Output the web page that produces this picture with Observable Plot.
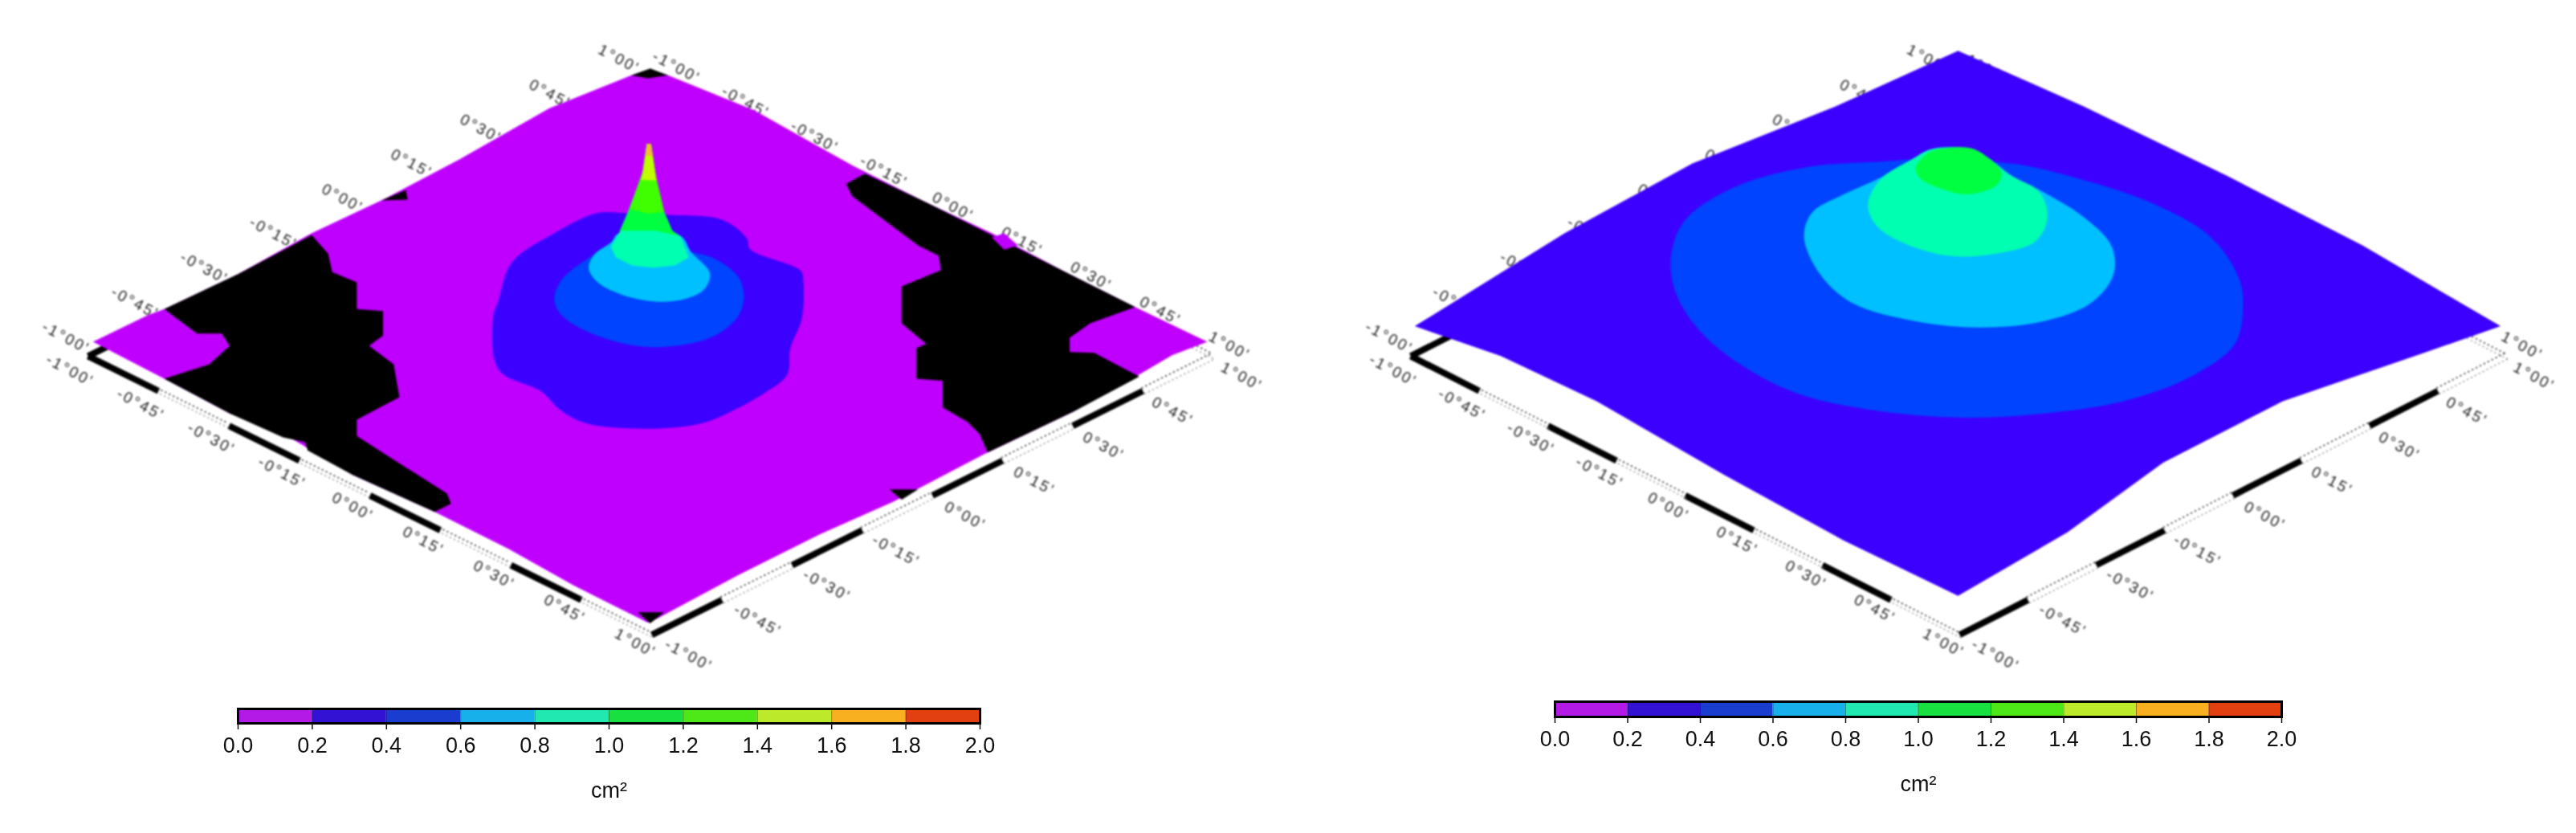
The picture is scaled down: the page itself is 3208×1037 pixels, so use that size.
<!DOCTYPE html>
<html><head><meta charset="utf-8">
<script src="https://cdn.jsdelivr.net/npm/d3@7"></script>
<script src="https://cdn.jsdelivr.net/npm/@observablehq/plot@0.6"></script>
<style>
html,body{margin:0;padding:0;background:#fff}
#page{position:relative;width:3208px;height:1037px;overflow:hidden;background:#fff}
#page>div{position:absolute}
svg{display:block;background:transparent !important}
</style></head><body><div id="page"></div>
<script>
// colour classes (cm²)
const thresholds=[0.2,0.4,0.6,0.8,1.0,1.2,1.4,1.6,1.8];
const surfaceColors=["#c000ff","#3c00ff","#0044ff","#00c0ff","#00ffb0","#00ff40","#40ff00","#c0ff00","#ffb040","#f04010"];
const barColors=["#b31ae6","#3312d4","#1a3ccf","#18b0ea","#20e8b0","#18e040","#4ee818","#bcea2a","#f8b020","#e24010"];
const barTicks=[0,0.2,0.4,0.6,0.8,1.0,1.2,1.4,1.6,1.8,2.0];
// graticule ticks (degrees)
const gridTicks=[-1,-0.75,-0.5,-0.25,0,0.25,0.5,0.75,1];
const gridLabels=["-1°00'","-0°45'","-0°30'","-0°15'","0°00'","0°15'","0°30'","0°45'","1°00'"];
const corners={L:[107,770],B:[795,1450],R:[1480,770],T:[795,90]};
const labelTracks=[
 {from:[85,805],to:[775,1470]},
 {from:[840,1500],to:[1515,820]},
 {from:[80,725],to:[755,45]},
 {from:[825,65],to:[1500,745]}
];
// left panel: surface read in picture units
const leftSurface=[[113,735],[180,670],[200,655],[290,570],[380,470],[470,385],[560,290],[670,165],[770,85],[793,70],[815,85],[920,170],[1040,305],[1130,395],[1210,470],[1300,565],[1385,650],[1473,735],[1430,768],[1390,815],[1310,905],[1200,1010],[1090,1125],[1000,1205],[900,1305],[800,1412],[790,1420],[700,1330],[620,1240],[530,1150],[430,1060],[350,965],[280,910],[200,825]];
const leftNoDataA=[[200,655],[290,570],[380,475],[400,520],[405,565],[435,590],[435,655],[467,660],[467,720],[450,745],[480,790],[487,870],[435,925],[435,965],[470,1010],[545,1105],[550,1130],[530,1150],[430,1060],[375,1000],[372,980],[345,968],[280,910],[200,825],[255,790],[280,745],[270,715],[240,715]];
const leftNoDataB=[[1055,325],[1130,395],[1205,470],[1300,565],[1385,650],[1330,690],[1305,725],[1305,760],[1335,762],[1390,820],[1310,905],[1205,1005],[1195,960],[1180,930],[1150,895],[1150,830],[1118,825],[1118,750],[1130,740],[1100,690],[1100,600],[1148,560],[1145,525],[1120,500],[1040,380],[1032,350]];
const leftNoDataTop=[[770,85],[793,68],[815,85],[790,92]];
const leftNoDataBottom=[[778,1395],[810,1395],[793,1422]];
const leftNoDataSpot1=[[465,390],[495,365],[497,388]];
const leftNoDataSpot2=[[1085,1095],[1120,1095],[1100,1120]];
const leftSliver=[[1210,480],[1225,470],[1242,500],[1225,510]];
const leftC02=[[601,679],[608,633],[624,542],[676,470],[728,421],[764,421],[810,425],[882,438],[911,483],[915,509],[977,562],[980,588],[978,679],[964,751],[960,816],[931,862],[889,908],[856,934],[797,947],[715,934],[683,901],[660,856],[608,803]];
const leftC04=[[676,627],[686,581],[719,529],[742,503],[843,516],[875,536],[902,581],[907,633],[898,679],[866,725],[800,748],[745,731],[699,692],[681,660]];
const leftC06=[[718,555],[725,522],[745,493],[755,470],[830,477],[843,516],[866,568],[859,607],[836,630],[800,637],[758,620],[728,588]];
const leftC08=[[745,503],[755,470],[758,457],[766,418],[777,359],[784,320],[789,252],[794,252],[800,333],[810,418],[820,464],[830,477],[840,529],[823,549],[797,554],[771,549],[751,529]];
const leftC10=[[756,464],[766,418],[777,359],[784,320],[789,252],[794,252],[800,333],[810,418],[820,464],[828,477],[800,464]];
const leftC12=[[768,411],[777,359],[784,320],[789,252],[794,252],[800,333],[810,418],[790,422]];
const leftC14=[[782,340],[784,320],[789,252],[794,252],[800,333],[801,341]];
const leftC16=[[788,281],[790,252],[793,252],[796,281]];
// right panel
const rightSurface=[[112,697],[300,470],[460,300],[640,160],[793,25],[950,160],[1130,330],[1300,500],[1473,697],[1380,760],[1200,880],[1050,1030],[930,1200],[793,1355],[650,1220],[500,1060],[340,880],[220,770]];
const rightC04=[[433,530],[450,440],[510,360],[600,310],[700,295],[740,290],[860,300],[950,340],[1040,400],[1110,480],[1145,580],[1150,650],[1140,740],[1085,820],[1000,880],[900,910],[800,920],[680,900],[590,860],[520,790],[470,710],[440,620]];
const rightC06=[[600,480],[610,420],[650,375],[695,335],[735,290],[760,265],[810,265],[830,285],[860,330],[900,370],[950,430],[985,500],[988,570],[960,640],[900,685],[820,700],[740,685],[660,640],[620,570]];
const rightC08=[[680,400],[695,340],[735,290],[760,265],[810,265],[830,285],[860,330],[895,370],[905,430],[890,490],[840,520],[780,525],[720,490],[690,450]];
const rightC10=[[740,310],[755,275],[775,263],[810,263],[830,285],[848,325],[840,355],[805,375],[770,360],[745,335]];

const SMOOTH="catmull-rom-closed", SHARP="linear-closed";
const leftLayers=[
 {pts:leftSurface,level:0.1,curve:SHARP},
 {pts:leftNoDataA,color:"#000",curve:SHARP},{pts:leftNoDataB,color:"#000",curve:SHARP},
 {pts:leftNoDataTop,color:"#000",curve:SHARP},{pts:leftNoDataBottom,color:"#000",curve:SHARP},
 {pts:leftNoDataSpot1,color:"#000",curve:SHARP},{pts:leftNoDataSpot2,color:"#000",curve:SHARP},
 {pts:leftSliver,level:0.1,curve:SHARP},
 {pts:leftC02,level:0.3,curve:SMOOTH},{pts:leftC04,level:0.5,curve:SMOOTH},{pts:leftC06,level:0.7,curve:SMOOTH},
 {pts:leftC08,level:0.9,curve:SHARP},{pts:leftC10,level:1.1,curve:SHARP},{pts:leftC12,level:1.3,curve:SHARP},
 {pts:leftC14,level:1.5,curve:SHARP},{pts:leftC16,level:1.7,curve:SHARP}
];
const rightLayers=[
 {pts:rightSurface,level:0.3,curve:SHARP},
 {pts:rightC04,level:0.5,curve:SMOOTH},{pts:rightC06,level:0.7,curve:SMOOTH},
 {pts:rightC08,level:0.9,curve:SMOOTH},{pts:rightC10,level:1.1,curve:SMOOTH}
];

const lerp=(a,b,t)=>[a[0]+(b[0]-a[0])*t,a[1]+(b[1]-a[1])*t];
const frac=d=>(d+1)/2;
function edge(a,b){
  const out=[];
  for(let i=0;i<gridTicks.length-1;i++){
    const p=lerp(a,b,frac(gridTicks[i])),q=lerp(a,b,frac(gridTicks[i+1]));
    out.push({x1:p[0],y1:p[1],x2:q[0],y2:q[1],solid:i%2===0});
  }
  return out;
}
const frameSegments=[...edge(corners.L,corners.B),...edge(corners.B,corners.R),...edge(corners.L,corners.T),...edge(corners.T,corners.R)];
const labelRows=labelTracks.flatMap(tr=>gridTicks.map((d,i)=>{const p=lerp(tr.from,tr.to,frac(d));return {x:p[0],y:p[1],t:gridLabels[i]};}));
const colorOpt=range=>({type:"threshold",domain:thresholds,range});

function panel(layers,left,width){
  const seg={x1:"x1",y1:"y1",x2:"x2",y2:"y2"};
  const solid=frameSegments.filter(d=>d.solid), open=frameSegments.filter(d=>!d.solid);
  const marks=[
    Plot.link(solid,{...seg,stroke:"#000",strokeWidth:8,strokeLinecap:"butt"}),
    Plot.link(open,{...seg,stroke:"#222",strokeWidth:1.6,strokeDasharray:"2,3.5",dx:-1.8,dy:-3.6}),
    Plot.link(open,{...seg,stroke:"#888",strokeWidth:1.4,strokeDasharray:"2,3.5",dx:1.8,dy:3.6}),
    Plot.text(labelRows,{x:"x",y:"y",text:"t",rotate:28,fontSize:19,fill:"#222"}),
    ...layers.map(l=>Plot.line(l.pts,{x:d=>d[0],y:d=>d[1],curve:l.curve,stroke:"none",fill:l.color?l.color:()=>l.level}))
  ];
  const p=Plot.plot({width,height:800,margin:0,
    x:{domain:[0,1568],axis:null},y:{domain:[1568,0],axis:null},
    color:colorOpt(surfaceColors),
    style:{fontFamily:"'Liberation Sans',sans-serif",letterSpacing:"2.5px",filter:"blur(0.9px)",overflow:"visible"},
    marks});
  const d=document.createElement("div");d.style.left=left+"px";d.style.top="50px";d.appendChild(p);
  document.getElementById("page").appendChild(d);
}
function colorbar(left,top,width,barH,labelOff){
  const cells=d3.pairs(barTicks).map(([a,b])=>({a,b,v:(a+b)/2}));
  const W=width+80;
  const p=Plot.plot({width:W,height:barH+110,
    marginLeft:40,marginRight:40,marginTop:2,marginBottom:108,
    x:{domain:[0,2]},y:{domain:[0,1],axis:null},
    color:colorOpt(barColors),
    style:{fontFamily:"'Liberation Sans',sans-serif",fontSize:"27px",color:"#111",filter:"blur(0.6px)",overflow:"visible"},
    marks:[
      Plot.rectY(cells,{x1:"a",x2:"b",y1:0,y2:1,fill:"v",inset:0}),
      Plot.ruleX(barTicks,{stroke:"#000",strokeOpacity:0.35,strokeWidth:1}),
      Plot.frame({stroke:"#000",strokeWidth:3}),
      Plot.axisX({ticks:barTicks,tickFormat:d3.format(".1f"),tickSize:8,tickPadding:9,fontSize:27,strokeWidth:1.5,
        label:"cm²",labelAnchor:"center",labelArrow:"none",labelOffset:labelOff,fill:"#111"})
    ]});
  const d=document.createElement("div");d.style.left=(left-40)+"px";d.style.top=(top-2)+"px";d.appendChild(p);
  document.getElementById("page").appendChild(d);
}
panel(leftLayers,0,1600);
panel(rightLayers,1650,1558);
colorbar(296,882,924,18,92);
colorbar(1936,873,905,19,92);
</script></body></html>
